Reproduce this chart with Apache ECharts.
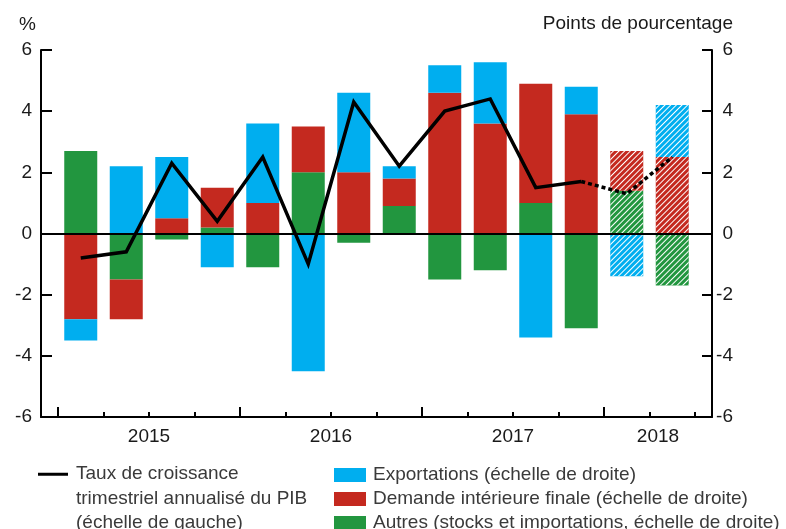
<!DOCTYPE html>
<html>
<head>
<meta charset="utf-8">
<script src="https://cdn.jsdelivr.net/npm/echarts@6/dist/echarts.min.js"></script>
<style>
html, body { margin: 0; padding: 0; background: #fff; }
#main { width: 786px; height: 529px; }
</style>
</head>
<body>
<div id="main"></div>
<script>
// trimestres 2015T1 - 2018T2 (les deux derniers = projections, hachurés)
var quarters = ['2015T1', '2015T2', '2015T3', '2015T4', '2016T1', '2016T2', '2016T3', '2016T4',
    '2017T1', '2017T2', '2017T3', '2017T4', '2018T1', '2018T2'];
var projected = [false, false, false, false, false, false, false, false, false, false, false, false, true, true];

// taux de croissance du PIB (échelle de gauche)
var gdpGrowth = [-0.8, -0.6, 2.3, 0.4, 2.5, -1.0, 4.3, 2.2, 4.0, 4.4, 1.5, 1.7, 1.3, 2.5];
// contributions (échelle de droite)
var exportsContrib = [-0.7, 2.2, 2.0, -1.1, 2.6, -4.5, 2.6, 0.4, 0.9, 2.0, -3.4, 0.9, -1.4, 1.7];
var domesticContrib = [-2.8, -1.3, 0.5, 1.3, 1.0, 1.5, 2.0, 0.9, 4.6, 3.6, 3.9, 3.9, 1.3, 2.5];
var otherContrib = [2.7, -1.5, -0.2, 0.2, -1.1, 2.0, -0.3, 0.9, -1.5, -1.2, 1.0, -3.1, 1.4, -1.7];

var gdpLegendLines = ['Taux de croissance', 'trimestriel annualisé du PIB', '(échelle de gauche)'];
var gdpName = gdpLegendLines.join(' ');
var expName = 'Exportations (échelle de droite)';
var domName = 'Demande intérieure finale (échelle de droite)';
var othName = 'Autres (stocks et importations, échelle de droite)';

var FONT = 'Liberation Sans, Arial, Helvetica, sans-serif';
var TXT = '#1a1a1a';
var FS = 19;

// axe x "cadre" : même échelle que les trimestres, avec une marge de chaque côté
var pad = 17 / 45.5;
var xMin = -pad, xMax = quarters.length + pad;

// début de chaque année (en trimestres) et position du libellé
var years = [], yearStart = [];
quarters.forEach(function (q, i) {
    var y = q.slice(0, 4);
    if (years.indexOf(y) < 0) { years.push(y); yearStart.push(i); }
});
var yearLabelPos = yearStart.map(function (s, k) {
    var e = k < yearStart.length - 1 ? yearStart[k + 1] : xMax;
    return (s + e) / 2;
});

// hachures blanches des projections
var hatch = {
    symbol: 'rect',
    symbolSize: 1,
    color: '#ffffff',
    dashArrayX: [1, 0],
    dashArrayY: [1, 2.1],
    rotation: -Math.PI / 4
};

function barData(values) {
    return values.map(function (v, i) {
        if (!projected[i]) return v;
        return { value: v, itemStyle: { decal: hatch } };
    });
}

function linePoints(from, to) {
    var pts = [];
    for (var i = from; i <= to; i++) pts.push([i + 0.5, gdpGrowth[i]]);
    return pts;
}
var firstProj = projected.indexOf(true);

var chart = echarts.init(document.getElementById('main'));

var yAxisBase = {
    type: 'value', gridIndex: 0, min: -6, max: 6, interval: 2,
    axisLine: { show: true, onZero: false, lineStyle: { color: '#000', width: 2 } },
    splitLine: { show: false }
};

var option = {
    backgroundColor: '#fff',
    animation: false,
    textStyle: { fontFamily: FONT },
    title: [
        { text: '%', left: 19, top: 15, padding: 0,
          textStyle: { fontSize: FS, fontWeight: 'normal', color: TXT, fontFamily: FONT } },
        { text: 'Points de pourcentage', right: 53, top: 14, padding: 0,
          textStyle: { fontSize: FS, fontWeight: 'normal', color: TXT, fontFamily: FONT } }
    ],
    grid: [
        { left: 41, right: 74, top: 50, bottom: 112 },
        { left: 58, right: 91, top: 50, bottom: 112 }
    ],
    legend: [
        {
            // trait en haut d'une icône haute, pour l'aligner sur la 1re ligne du texte
            left: 38, top: 462, padding: 0,
            itemWidth: 30, itemHeight: 52,
            selectedMode: false,
            data: [{ name: gdpName, icon: 'path://M0 0H30V3H0ZM0 52L0.01 52' }],
            formatter: function () { return gdpLegendLines.join('\n'); },
            textStyle: { fontSize: FS, lineHeight: 24.5, color: '#3a3a3a', fontFamily: FONT, padding: [0, 0, 0, 3] }
        },
        {
            orient: 'vertical',
            left: 334, top: 465, height: 80, padding: 0,
            itemWidth: 32, itemHeight: 14, itemGap: 4,
            icon: 'rect',
            selectedMode: false,
            data: [expName, domName, othName],
            textStyle: { fontSize: FS, lineHeight: 20, color: '#3a3a3a', fontFamily: FONT, padding: [0, 0, 0, 2] }
        }
    ],
    xAxis: [
        {
            // cadre : ligne du bas, grands traits et libellés des années
            type: 'value', gridIndex: 0, min: xMin, max: xMax,
            position: 'bottom',
            axisLine: { show: true, onZero: false, lineStyle: { color: '#000', width: 2 } },
            axisTick: { show: true, inside: true, length: 10, customValues: yearStart, lineStyle: { color: '#000', width: 2 } },
            axisLabel: {
                show: true, customValues: yearLabelPos, margin: 10,
                fontSize: FS, color: TXT, fontFamily: FONT,
                formatter: function (v) {
                    for (var k = 0; k < yearLabelPos.length; k++) {
                        if (Math.abs(yearLabelPos[k] - v) < 1e-6) return years[k];
                    }
                    return '';
                }
            },
            splitLine: { show: false }
        },
        {
            // trimestres : petits traits
            type: 'category', gridIndex: 1, data: quarters,
            axisLine: { show: false, onZero: false },
            axisTick: { show: true, inside: true, length: 5, interval: 0, lineStyle: { color: '#000', width: 2 } },
            axisLabel: { show: false },
            splitLine: { show: false }
        }
    ],
    yAxis: [
        echarts.util.merge({
            position: 'left',
            axisTick: { show: true, inside: true, length: 11, lineStyle: { color: '#000', width: 2 } },
            axisLabel: { margin: 9, fontSize: FS, color: TXT, fontFamily: FONT }
        }, yAxisBase),
        echarts.util.merge({
            position: 'right',
            axisTick: { show: true, inside: true, length: 10, lineStyle: { color: '#000', width: 2 } },
            axisLabel: { margin: 21, align: 'right', fontSize: FS, color: TXT, fontFamily: FONT }
        }, yAxisBase),
        { type: 'value', gridIndex: 1, min: -6, max: 6, interval: 2, show: false }
    ],
    series: [
        {
            name: othName, type: 'bar', xAxisIndex: 1, yAxisIndex: 2, stack: 'contrib', barWidth: 33,
            itemStyle: { color: '#22963f' }, data: barData(otherContrib)
        },
        {
            name: domName, type: 'bar', xAxisIndex: 1, yAxisIndex: 2, stack: 'contrib', barWidth: 33,
            itemStyle: { color: '#c4291f' }, data: barData(domesticContrib)
        },
        {
            name: expName, type: 'bar', xAxisIndex: 1, yAxisIndex: 2, stack: 'contrib', barWidth: 33,
            itemStyle: { color: '#00aeef' }, data: barData(exportsContrib)
        },
        {
            name: gdpName, type: 'line', xAxisIndex: 0, yAxisIndex: 0, z: 5,
            symbol: 'none', data: linePoints(0, firstProj - 1),
            lineStyle: { color: '#000', width: 3.5, join: 'miter' },
            itemStyle: { color: '#000' },
            markLine: {
                silent: true, symbol: 'none', label: { show: false },
                lineStyle: { color: '#000', width: 2, type: 'solid' },
                data: [{ yAxis: 0 }]
            }
        },
        {
            name: 'projection', type: 'line', xAxisIndex: 0, yAxisIndex: 0, z: 5,
            symbol: 'none', data: linePoints(firstProj - 1, quarters.length - 1),
            lineStyle: { color: '#000', width: 3.5, type: [4, 3], join: 'miter' }
        }
    ]
};

chart.setOption(option);
</script>
</body>
</html>
